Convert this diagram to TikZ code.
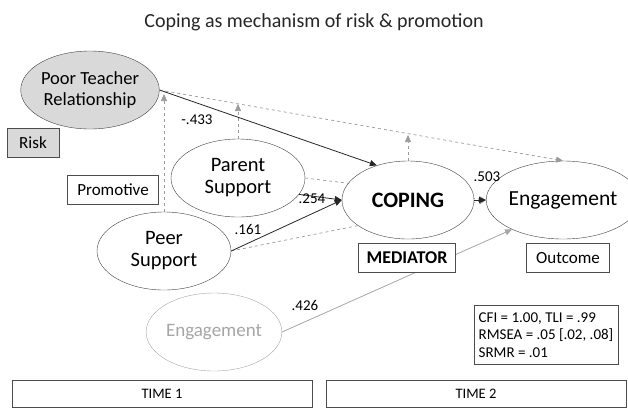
\documentclass[tikz,border=0pt]{standalone}
\usepackage{fontspec}
\setmainfont{Carlito}
\usepackage{tikz}
\usetikzlibrary{arrows.meta,shapes.geometric}

\definecolor{riskgray}{HTML}{D9D9D9}
\definecolor{modgray}{HTML}{9A9A9A}
\definecolor{oldgray}{HTML}{A6A6A6}

\begin{document}
\begin{tikzpicture}[x=1pt, y=-1pt, >={Triangle[length=7pt,width=6pt]},
  latent/.style={draw=black!75, fill=white, ellipse, minimum width=134pt, minimum height=78pt,
    inner sep=0pt, align=center, font=\fontsize{20.5}{22}\selectfont},
  tag/.style={draw=black!70, fill=white, rectangle, inner sep=0pt, font=\fontsize{17}{18}\selectfont},
  coef/.style={font=\fontsize{15}{16}\selectfont},
  path/.style={->, black!85, line width=0.8pt},
  moder/.style={->, modgray, dashed, line width=0.7pt}]
\useasboundingbox (0,0) rectangle (628,408);

% title
\node[font=\fontsize{20}{22}\selectfont, text=black!85] (title) at (314,22) {Coping as mechanism of risk \& promotion};

% ---- time 1 ----
\node[latent, fill=riskgray, font=\fontsize{18.5}{21}\selectfont] (ptr) at (90,90) {Poor Teacher\\Relationship};
\node[latent] (par) at (238,178) {Parent\\Support};
\node[latent] (peer) at (164,251) {Peer\\Support};
\node[latent, draw=oldgray, text=oldgray, font=\fontsize{19}{20}\selectfont] (eng1) at (214,332) {Engagement};

\node[tag, fill=riskgray, minimum width=52pt, minimum height=29pt] (risk) at (33,143) {Risk};
\node[tag, minimum width=91pt, minimum height=29pt] (promo) at (113,190) {Promotive};

% ---- time 2 ----
\node[latent, minimum width=128pt, font=\fontsize{21.5}{22}\selectfont] (eng2) at (563,200) {Engagement};

\node[tag, minimum width=83pt, minimum height=29pt] (outc) at (568,258) {Outcome};

\node[tag, minimum width=144pt, minimum height=59pt, align=left, inner sep=4pt,
  font=\fontsize{15}{17.5}\selectfont] (fit) at (546,335)
  {CFI = 1.00, TLI = .99\\RMSEA = .05 [.02, .08]\\SRMR = .01};

\node[tag, minimum width=300pt, minimum height=27pt, font=\fontsize{14.5}{15}\selectfont] (t1) at (162,394) {TIME 1};
\node[tag, minimum width=300pt, minimum height=27pt, font=\fontsize{14.5}{15}\selectfont] (t2) at (476,394) {TIME 2};

% dashed (direct) paths, under the coping ellipse
\draw[moder] (ptr.east) -- (eng2.north);
\draw[moder] (par.east) -- (eng2.west);
\draw[moder] (peer.east) -- (eng2.west);

\node[latent, minimum width=132pt, font=\fontsize{22}{23}\selectfont\bfseries] (cop) at (408,200) {COPING};

% stability path, under the mediator tag
\draw[->, oldgray, line width=0.8pt] (eng1.east) -- (eng2.210);
\node[tag, minimum width=97pt, minimum height=29pt, font=\fontsize{18}{19}\selectfont\bfseries] (med) at (407,258) {MEDIATOR};

% moderation points
\coordinate (mpeer) at (164,94);
\coordinate (mpar) at (238,104);
\coordinate (mcop) at (408,135);

% moderation arrows
\draw[moder] (peer.north) -- (mpeer);
\draw[moder] (par.north) -- (mpar);
\draw[moder] (cop.north) -- (mcop);

% solid paths
\draw[path] (ptr.east) -- (cop.132);
\draw[path] (par.-15) -- (cop.west);
\draw[path] (peer.east) -- (cop.west);
\draw[path] (cop.east) -- (eng2.west);

% coefficients
\node[coef] (c1) at (197,120) {-.433};
\node[coef] (c2) at (312,199) {.254};
\node[coef] (c3) at (248,229) {.161};
\node[coef] (c4) at (487,177) {.503};
\node[coef] (c5) at (305,305) {.426};

\end{tikzpicture}
\end{document}
